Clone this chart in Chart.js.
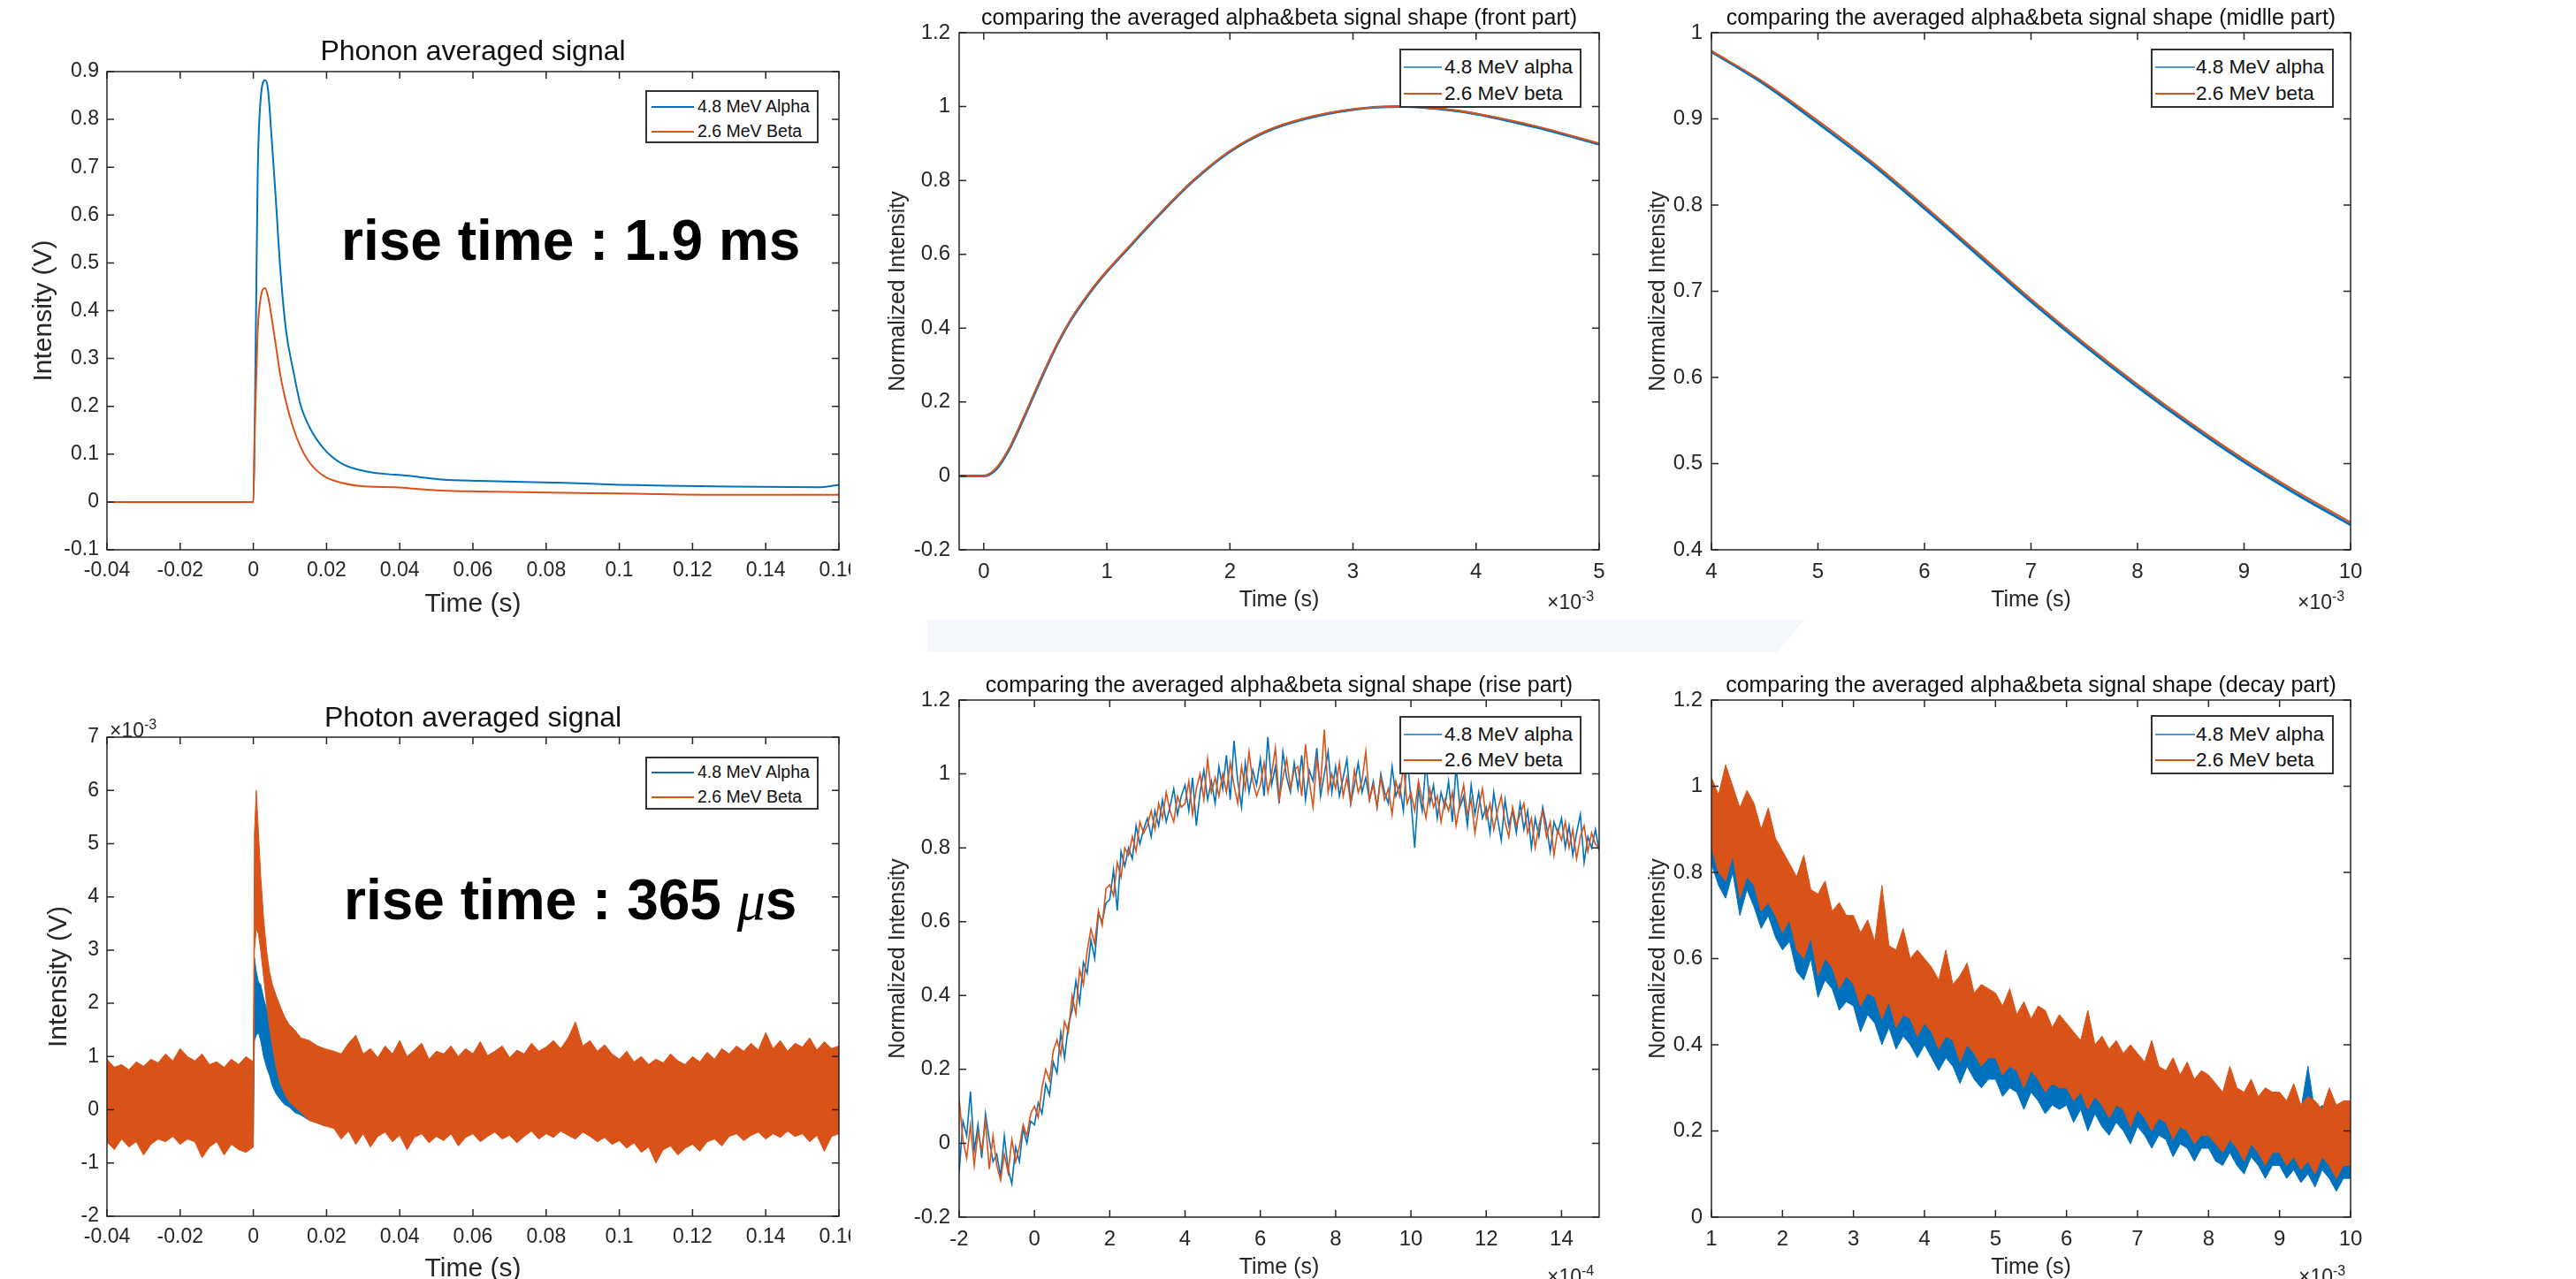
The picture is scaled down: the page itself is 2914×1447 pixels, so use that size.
<!DOCTYPE html>
<html>
<head>
<meta charset="utf-8">
<script src="https://cdn.jsdelivr.net/npm/chart.js@4.4.1/dist/chart.umd.min.js"></script>
<style>
  html, body { margin: 0; padding: 0; background: #fff; }
  body { position: relative; width: 2914px; height: 1447px; overflow: hidden; font-family: "Liberation Sans", Arial, Helvetica, sans-serif; color: #262626; }
  .panel { position: absolute; overflow: hidden; }
  .panel canvas { position: absolute; left: 0; top: 0; }
  .legend { position: absolute; background: #fff; border: 2px solid #333; box-sizing: border-box; }
  .legend .swatch { position: absolute; height: 0; border-top: 2px solid; }
  .legend .ltext { position: absolute; white-space: nowrap; color: #111; }
  .note { position: absolute; font-weight: bold; font-size: 64px; line-height: 64px; color: #000; white-space: nowrap; }
  .note .mu { font-family: "Liberation Serif", "DejaVu Serif", serif; font-style: italic; font-weight: normal; }
  .exp { position: absolute; font-size: 23px; line-height: 23px; color: #262626; white-space: nowrap; }
  .exp sup { font-size: 16px; }
  .band { position: absolute; left: 1049px; top: 701px; width: 993px; height: 37px; background: #f4f8fd; clip-path: polygon(0 0, 100% 0, 961px 100%, 0 100%); }
</style>
</head>
<body>
<div class="band"></div>
<script>
Chart.defaults.font.family = '"Liberation Sans", Arial, Helvetica, sans-serif';
Chart.defaults.color = '#262626';

const BLUE = '#0072BD';
const ORANGE = '#D95319';
const AXIS = '#262626';

// ---------- Phonon averaged signal (time in s, intensity in V)
const phononTime = [-0.04, -0.02, -0.0005, 0, 0.0004, 0.0008, 0.0012, 0.002, 0.0032, 0.004, 0.0049, 0.0061, 0.0073, 0.0089, 0.0109, 0.0129, 0.0153, 0.0193, 0.0242, 0.0314, 0.0387, 0.0435, 0.0515, 0.0617, 0.085, 0.1, 0.107, 0.131, 0.155, 0.16];
const phononAlpha = [0, 0, 0, 0, 0.176, 0.44, 0.69, 0.843, 0.882, 0.863, 0.771, 0.638, 0.494, 0.36, 0.275, 0.203, 0.157, 0.111, 0.08, 0.063, 0.057, 0.054, 0.047, 0.044, 0.04, 0.036, 0.035, 0.032, 0.031, 0.036];
const phononBeta = [0, 0, 0, 0, 0.155, 0.26, 0.36, 0.427, 0.447, 0.43, 0.39, 0.33, 0.268, 0.21, 0.155, 0.115, 0.083, 0.054, 0.04, 0.032, 0.031, 0.028, 0.024, 0.022, 0.019, 0.018, 0.017, 0.015, 0.015, 0.015];
const phononXTicks = [-0.04, -0.02, 0, 0.02, 0.04, 0.06, 0.08, 0.1, 0.12, 0.14, 0.16];
const phononXLabels = ['-0.04', '-0.02', '0', '0.02', '0.04', '0.06', '0.08', '0.1', '0.12', '0.14', '0.16'];
const phononYTicks = [-0.1, 0, 0.1, 0.2, 0.3, 0.4, 0.5, 0.6, 0.7, 0.8, 0.9];
const phononYLabels = ['-0.1', '0', '0.1', '0.2', '0.3', '0.4', '0.5', '0.6', '0.7', '0.8', '0.9'];

// ---------- Photon averaged signal (time in s, intensity in 1e-3 V), noisy trace read as upper/lower envelope
const photonTime = [
  -0.04, -0.038, -0.036, -0.034, -0.032, -0.03, -0.028, -0.026, -0.024, -0.022, -0.02, -0.018, -0.016, -0.014, -0.012, -0.01, -0.008, -0.006, -0.004, -0.002, 0,
  0.0003, 0.0008, 0.0014, 0.002, 0.0028, 0.0036, 0.0044, 0.0052, 0.0062, 0.0073, 0.0085, 0.0098, 0.0113, 0.013, 0.0153, 0.0175, 0.0194,
  0.022, 0.024, 0.026, 0.028, 0.03, 0.032, 0.034, 0.036, 0.038, 0.04, 0.042, 0.044, 0.046, 0.048, 0.05, 0.052, 0.054, 0.056, 0.058, 0.06,
  0.062, 0.064, 0.066, 0.068, 0.07, 0.072, 0.074, 0.076, 0.078, 0.08, 0.082, 0.084, 0.086, 0.088, 0.09, 0.092, 0.094, 0.096, 0.098, 0.1,
  0.102, 0.104, 0.106, 0.108, 0.11, 0.112, 0.114, 0.116, 0.118, 0.12, 0.122, 0.124, 0.126, 0.128, 0.13, 0.132, 0.134, 0.136, 0.138, 0.14,
  0.142, 0.144, 0.146, 0.148, 0.15, 0.152, 0.154, 0.156, 0.158, 0.16
];
const photonBetaHi = [
  0.95, 0.8, 0.85, 0.75, 0.9, 0.82, 0.95, 0.88, 1.05, 0.92, 1.15, 1.0, 0.92, 1.05, 0.85, 0.9, 0.8, 0.95, 0.85, 1.0, 0.9,
  5.2, 6.0, 5.2, 4.4, 3.6, 3.0, 2.6, 2.35, 2.15, 1.95, 1.75, 1.6, 1.5, 1.35, 1.3, 1.2, 1.15,
  1.1, 1.05, 1.25, 1.4, 1.05, 1.15, 0.98, 1.2, 1.05, 1.3, 1.0, 1.12, 1.25, 0.95, 1.1, 1.05, 1.2, 1.0, 1.15, 1.05,
  1.28, 1.02, 1.1, 1.2, 0.98, 1.12, 1.05, 1.25, 1.1, 1.18, 1.3, 1.15, 1.35, 1.65, 1.2, 1.3, 1.1, 1.22, 1.05, 0.95,
  1.1, 0.9, 1.0, 0.85, 0.95, 0.88, 1.05, 0.92, 0.85, 1.0, 0.9, 1.08, 0.95, 1.15, 1.05, 1.2, 1.1, 1.25, 1.12, 1.45,
  1.15, 1.3, 1.1, 1.25, 1.18, 1.35, 1.12, 1.28, 1.15, 1.2
];
const photonBetaLo = [
  -0.6, -0.75, -0.55, -0.7, -0.6, -0.85, -0.65, -0.55, -0.6, -0.5, -0.65, -0.55, -0.6, -0.9, -0.7, -0.6, -0.85, -0.65, -0.75, -0.8, -0.7,
  3.0, 3.4, 3.3, 3.0, 2.5, 2.0, 1.55, 1.2, 0.8, 0.5, 0.3, 0.15, 0.05, -0.05, -0.2, -0.25, -0.3,
  -0.35, -0.55, -0.4, -0.65, -0.45, -0.7, -0.5, -0.42, -0.6, -0.48, -0.75, -0.52, -0.45, -0.62, -0.5, -0.58, -0.45, -0.68, -0.52, -0.45,
  -0.6, -0.5, -0.42, -0.55, -0.48, -0.62, -0.5, -0.4, -0.55, -0.45, -0.52, -0.4, -0.48, -0.55, -0.42, -0.5, -0.6, -0.52, -0.65, -0.58,
  -0.72, -0.62, -0.8, -0.7, -1.0, -0.75, -0.68, -0.85, -0.72, -0.65, -0.78, -0.6, -0.55, -0.68, -0.5, -0.45, -0.58, -0.48, -0.42, -0.55,
  -0.45, -0.52, -0.4, -0.5, -0.45, -0.6, -0.48, -0.78, -0.5, -0.45
];
const photonAlphaHi = [
  0.62, 0.55, 0.6, 0.5, 0.65, 0.58, 0.6, 0.55, 0.7, 0.6, 0.75, 0.65, 0.6, 0.7, 0.55, 0.62, 0.55, 0.65, 0.6, 0.7, 0.6,
  2.85, 2.6, 2.4, 2.35, 2.1, 1.9, 1.65, 1.45, 1.25, 1.0, 0.8, 0.62, 0.5, 0.45, 0.5, 0.55, 0.6,
  0.7, 0.65, 0.75, 0.7, 0.68, 0.72, 0.65, 0.7, 0.75, 0.68, 0.7, 0.65, 0.72, 0.7, 0.66, 0.74, 0.7, 0.68, 0.72, 0.7,
  0.74, 0.68, 0.7, 0.72, 0.66, 0.7, 0.74, 0.7, 0.68, 0.72, 0.7, 0.75, 0.7, 0.72, 0.68, 0.74, 0.7, 0.72, 0.68, 0.66,
  0.7, 0.65, 0.68, 0.62, 0.66, 0.64, 0.7, 0.66, 0.62, 0.68, 0.64, 0.7, 0.66, 0.72, 0.7, 0.74, 0.7, 0.72, 0.7, 0.75,
  0.72, 0.74, 0.7, 0.72, 0.7, 0.74, 0.7, 0.72, 0.7, 0.72
];
const photonAlphaLo = [
  -0.45, -0.5, -0.4, -0.5, -0.45, -0.55, -0.45, -0.4, -0.45, -0.38, -0.5, -0.42, -0.45, -0.55, -0.5, -0.45, -0.55, -0.48, -0.5, -0.55, -0.5,
  1.3, 1.4, 1.45, 1.3, 1.0, 0.8, 0.65, 0.45, 0.3, 0.2, 0.1, 0.05, -0.05, -0.1, -0.2, -0.25, -0.3,
  -0.3, -0.35, -0.32, -0.38, -0.34, -0.36, -0.3, -0.35, -0.38, -0.33, -0.36, -0.34, -0.32, -0.38, -0.35, -0.36, -0.32, -0.38, -0.34, -0.32,
  -0.36, -0.34, -0.3, -0.36, -0.34, -0.38, -0.35, -0.32, -0.36, -0.34, -0.36, -0.3, -0.34, -0.36, -0.32, -0.35, -0.38, -0.36, -0.4, -0.38,
  -0.42, -0.4, -0.45, -0.42, -0.5, -0.45, -0.42, -0.48, -0.44, -0.42, -0.46, -0.4, -0.38, -0.42, -0.35, -0.32, -0.38, -0.34, -0.3, -0.36,
  -0.32, -0.35, -0.3, -0.34, -0.32, -0.38, -0.34, -0.4, -0.35, -0.32
];
const photonYTicks = [-2, -1, 0, 1, 2, 3, 4, 5, 6, 7];
const photonYLabels = ['-2', '-1', '0', '1', '2', '3', '4', '5', '6', '7'];

// ---------- Front part (time in 1e-3 s, normalized)
const frontTime = [-0.2, -0.1, 0, 0.1, 0.2, 0.3, 0.4, 0.5, 0.6, 0.7, 0.8, 0.9, 1.0, 1.15, 1.4, 1.7, 2.0, 2.3, 2.6, 3.0, 3.4, 3.8, 4.0, 4.5, 5.0];
const frontAlpha = [0, 0, 0, 0.018, 0.068, 0.138, 0.213, 0.288, 0.358, 0.418, 0.468, 0.513, 0.553, 0.608, 0.698, 0.798, 0.878, 0.933, 0.966, 0.992, 1.0, 0.99, 0.98, 0.943, 0.898];
const frontBeta = [0, 0, 0, 0.021, 0.071, 0.141, 0.216, 0.291, 0.36, 0.42, 0.47, 0.515, 0.555, 0.61, 0.7, 0.8, 0.88, 0.935, 0.968, 0.993, 1.0, 0.991, 0.981, 0.946, 0.9];
const frontXTicks = [0, 1, 2, 3, 4, 5];
const frontXLabels = ['0', '1', '2', '3', '4', '5'];
const normYTicks = [-0.2, 0, 0.2, 0.4, 0.6, 0.8, 1, 1.2];
const normYLabels = ['-0.2', '0', '0.2', '0.4', '0.6', '0.8', '1', '1.2'];

// ---------- Middle part (time in 1e-3 s)
const midTime = [4, 4.5, 5, 5.5, 6, 6.5, 7, 7.5, 8, 8.5, 9, 9.5, 10];
const midAlpha = [0.978, 0.94, 0.895, 0.848, 0.796, 0.742, 0.688, 0.637, 0.589, 0.544, 0.502, 0.464, 0.429];
const midBeta = [0.979, 0.942, 0.898, 0.851, 0.799, 0.745, 0.691, 0.64, 0.592, 0.547, 0.505, 0.467, 0.432];
const midXTicks = [4, 5, 6, 7, 8, 9, 10];
const midXLabels = ['4', '5', '6', '7', '8', '9', '10'];
const midYTicks = [0.4, 0.5, 0.6, 0.7, 0.8, 0.9, 1];
const midYLabels = ['0.4', '0.5', '0.6', '0.7', '0.8', '0.9', '1'];

// ---------- Rise part (time in 1e-4 s, sampled every 0.1 from -2 to 15)
const riseAlpha = [
  -0.08, 0.06, 0.02, 0.14, -0.02, 0.05, -0.04, 0.08, 0.01, -0.05,
  -0.03, -0.09, 0.02, -0.07, -0.11, -0.01, -0.05, 0.04, 0.0, 0.06,
  0.05, 0.11, 0.08, 0.16, 0.13, 0.22, 0.19, 0.3, 0.23, 0.32,
  0.36, 0.44, 0.38, 0.49, 0.46, 0.55, 0.5, 0.62, 0.6, 0.65,
  0.66, 0.74, 0.63, 0.79, 0.75, 0.8, 0.77, 0.86, 0.81, 0.85,
  0.88, 0.83, 0.9, 0.86, 0.93, 0.87, 0.91, 0.96, 0.89, 0.94,
  0.97, 0.9, 0.99, 0.86, 0.95, 1.01, 0.93, 0.98, 0.92, 1.02,
  0.96, 1.05, 0.93, 1.09, 0.98, 0.91, 1.03, 0.95, 1.01, 0.97,
  1.04, 0.94, 1.1, 0.97, 1.02, 0.92, 1.06, 0.99, 0.95, 1.03,
  0.96, 1.05, 0.93, 1.01, 0.98, 1.07, 0.94, 1.0, 1.06, 0.95,
  1.02, 0.94, 0.99, 1.04, 0.92, 0.97, 1.03, 0.95, 0.99, 0.93,
  0.98, 0.91, 1.0, 0.95, 0.92, 1.02, 0.94, 0.97, 0.9, 1.05,
  0.93, 0.8, 0.96, 0.9, 1.03, 0.92, 0.97, 0.88, 0.95, 0.91,
  0.98, 0.87, 1.02, 0.91, 0.94, 0.86, 0.97, 0.89, 0.95, 0.88,
  0.91, 0.84, 0.95, 0.88, 0.82, 0.93, 0.86, 0.9, 0.84, 0.92,
  0.85, 0.9, 0.8, 0.88, 0.83, 0.91, 0.86, 0.79, 0.87, 0.84,
  0.88, 0.8, 0.86, 0.78, 0.84, 0.89, 0.76, 0.83, 0.8, 0.85,
  0.79
];
const riseBeta = [
  0.12, 0.01, -0.04, 0.05, -0.06, 0.03, -0.02, 0.06, -0.07, 0.02,
  -0.06, -0.1, -0.03, -0.08, 0.01, -0.05, -0.01, 0.05, 0.02, 0.08,
  0.1, 0.07, 0.15, 0.2, 0.17, 0.25, 0.28, 0.24, 0.33, 0.3,
  0.4, 0.35, 0.47, 0.43, 0.52, 0.58, 0.54, 0.63, 0.59, 0.69,
  0.7, 0.67, 0.76, 0.72, 0.8, 0.78, 0.83, 0.79, 0.87, 0.84,
  0.86, 0.9, 0.85, 0.92, 0.88, 0.95, 0.9, 0.87, 0.94, 0.91,
  0.92, 0.98, 0.89, 0.96, 1.0, 0.93, 1.04, 0.95, 0.99, 0.94,
  1.0, 0.95, 1.03, 0.97, 0.92, 1.02, 0.96, 1.06, 0.98, 0.94,
  0.97, 1.03, 0.95, 1.0, 1.07, 0.93, 0.99, 1.04, 0.96, 1.01,
  1.02, 0.94, 1.08, 0.98, 0.91, 1.04, 0.97, 1.12, 0.95, 1.0,
  0.96, 1.03, 0.94, 0.99, 0.92, 1.01, 0.95, 0.98, 1.06, 0.93,
  0.97, 0.91, 0.99, 0.93, 0.96, 0.89, 0.98, 0.94, 1.02, 0.92,
  0.95, 0.9, 0.98, 0.93, 0.88, 0.96, 0.91, 0.94, 0.87, 0.93,
  0.9, 0.95, 0.86, 0.92, 0.97, 0.89, 0.93, 0.84, 0.91, 0.96,
  0.88, 0.92, 0.85, 0.9, 0.94, 0.87, 0.83, 0.91, 0.86, 0.89,
  0.92, 0.84, 0.88, 0.8, 0.86, 0.9, 0.83, 0.87, 0.78, 0.85,
  0.82, 0.87, 0.8, 0.85, 0.77, 0.83, 0.86, 0.79, 0.84, 0.81,
  0.8
];
const riseXTicks = [-2, 0, 2, 4, 6, 8, 10, 12, 14];
const riseXLabels = ['-2', '0', '2', '4', '6', '8', '10', '12', '14'];

// ---------- Decay part (time in 1e-3 s, sampled every 0.1 from 1 to 10), envelopes of the noisy traces
const decayBetaHi = [
  1.02, 0.98, 1.05, 1.0, 0.95, 0.99, 0.96, 0.9, 0.95, 0.88,
  0.85, 0.82, 0.79, 0.84, 0.76, 0.75, 0.78, 0.71, 0.73, 0.7,
  0.7, 0.66, 0.69, 0.64, 0.77, 0.63, 0.62, 0.67, 0.6, 0.62,
  0.6, 0.58, 0.55, 0.62, 0.54, 0.56, 0.59, 0.52, 0.54, 0.53,
  0.52, 0.49, 0.53, 0.47, 0.5, 0.46, 0.49, 0.48, 0.44, 0.47,
  0.45, 0.43, 0.41, 0.48, 0.4, 0.42, 0.39, 0.41, 0.38, 0.4,
  0.38, 0.36, 0.41, 0.35, 0.34, 0.37, 0.33, 0.36, 0.32, 0.34,
  0.33, 0.31, 0.29, 0.35, 0.3, 0.29, 0.32, 0.28, 0.3, 0.29,
  0.29, 0.27, 0.31, 0.26, 0.28, 0.27, 0.25, 0.3, 0.26, 0.27,
  0.27
];
const decayBetaLo = [
  0.86, 0.8, 0.78, 0.84, 0.74, 0.79, 0.77, 0.71, 0.73, 0.7,
  0.66, 0.69, 0.62, 0.6, 0.65, 0.56, 0.6, 0.58, 0.53, 0.56,
  0.54, 0.49, 0.52, 0.51, 0.46, 0.5, 0.44, 0.47, 0.46, 0.42,
  0.45, 0.43, 0.39, 0.42, 0.41, 0.36, 0.4, 0.38, 0.35, 0.37,
  0.37, 0.33, 0.35, 0.34, 0.3, 0.34, 0.32, 0.29, 0.31, 0.3,
  0.3, 0.27, 0.29, 0.25, 0.28, 0.26, 0.23, 0.26, 0.25, 0.21,
  0.25, 0.23, 0.2, 0.23, 0.22, 0.18, 0.21, 0.2, 0.17, 0.19,
  0.19, 0.17, 0.15, 0.18, 0.16, 0.13, 0.17, 0.15, 0.12, 0.15,
  0.15, 0.12, 0.14, 0.11, 0.13, 0.1, 0.14, 0.12, 0.09, 0.12,
  0.12
];
const decayAlphaHi = [
  1.0, 0.98, 0.96, 0.95, 0.92, 0.91, 0.88, 0.86, 0.84, 0.82,
  0.8, 0.77, 0.76, 0.73, 0.72, 0.7, 0.68, 0.67, 0.65, 0.64,
  0.63, 0.62, 0.6, 0.59, 0.58, 0.57, 0.56, 0.55, 0.54, 0.53,
  0.52, 0.51, 0.5, 0.49, 0.48, 0.47, 0.47, 0.46, 0.45, 0.44,
  0.44, 0.43, 0.42, 0.41, 0.41, 0.4, 0.39, 0.39, 0.38, 0.37,
  0.37, 0.36, 0.35, 0.35, 0.34, 0.34, 0.33, 0.32, 0.32, 0.31,
  0.31, 0.3, 0.3, 0.29, 0.29, 0.28, 0.28, 0.27, 0.27, 0.26,
  0.27, 0.26, 0.28, 0.25, 0.27, 0.25, 0.26, 0.24, 0.28, 0.25,
  0.26, 0.24, 0.27, 0.25, 0.35, 0.24, 0.26, 0.23, 0.25, 0.24,
  0.24
];
const decayAlphaLo = [
  0.82, 0.77, 0.74, 0.8, 0.7, 0.76, 0.72, 0.67, 0.7, 0.65,
  0.62, 0.64, 0.57, 0.55, 0.6, 0.51, 0.55, 0.53, 0.48, 0.5,
  0.49, 0.43, 0.47, 0.45, 0.4, 0.44, 0.39, 0.42, 0.4, 0.37,
  0.4, 0.37, 0.34, 0.37, 0.35, 0.31, 0.35, 0.32, 0.3, 0.32,
  0.32, 0.28, 0.3, 0.29, 0.25, 0.29, 0.27, 0.24, 0.26, 0.25,
  0.26, 0.22, 0.25, 0.2, 0.24, 0.21, 0.19, 0.22, 0.2, 0.17,
  0.21, 0.19, 0.16, 0.19, 0.18, 0.14, 0.17, 0.16, 0.13, 0.16,
  0.16, 0.13, 0.12, 0.15, 0.12, 0.1, 0.14, 0.12, 0.09, 0.12,
  0.12, 0.09, 0.11, 0.08, 0.1, 0.07, 0.11, 0.09, 0.06, 0.09,
  0.09
];
const decayXTicks = [1, 2, 3, 4, 5, 6, 7, 8, 9, 10];
const decayXLabels = ['1', '2', '3', '4', '5', '6', '7', '8', '9', '10'];
const decayYTicks = [0, 0.2, 0.4, 0.6, 0.8, 1, 1.2];
const decayYLabels = ['0', '0.2', '0.4', '0.6', '0.8', '1', '1.2'];

// regular sampling grids of the recorded traces
const sampleGrid = (start, step, n) => Array.from({ length: n }, (_, i) => +(start + i * step).toFixed(4));
const riseTime = sampleGrid(-2, 0.1, riseAlpha.length);
const decayTime = sampleGrid(1, 0.1, decayBetaHi.length);

const pts = (xs, ys) => xs.map((x, i) => ({ x, y: ys[i] }));

// MATLAB-like box with inward ticks on all four sides
const matlabBox = {
    id: 'matlabBox',
    afterDatasetsDraw(chart) {
        const { ctx, chartArea: a, scales: { x, y } } = chart;
        const tl = 8;
        ctx.save();
        ctx.strokeStyle = AXIS;
        ctx.lineWidth = 1.5;
        ctx.beginPath();
        x.ticks.forEach(t => {
            const px = x.getPixelForValue(t.value);
            ctx.moveTo(px, a.bottom); ctx.lineTo(px, a.bottom - tl);
            ctx.moveTo(px, a.top); ctx.lineTo(px, a.top + tl);
        });
        y.ticks.forEach(t => {
            const py = y.getPixelForValue(t.value);
            ctx.moveTo(a.left, py); ctx.lineTo(a.left + tl, py);
            ctx.moveTo(a.right, py); ctx.lineTo(a.right - tl, py);
        });
        ctx.stroke();
        ctx.strokeRect(a.left, a.top, a.right - a.left, a.bottom - a.top);
        ctx.restore();
    },
};

const line = (xs, ys, color, order, opts = {}) => ({
    data: pts(xs, ys),
    borderColor: color,
    borderWidth: 2,
    pointRadius: 0,
    fill: false,
    order,
    ...opts,
});

const band = (xs, lo, hi, color, order) => [
    { data: pts(xs, lo), borderColor: color, backgroundColor: color, borderWidth: 1, pointRadius: 0, fill: false, order },
    { data: pts(xs, hi), borderColor: color, backgroundColor: color, borderWidth: 1, pointRadius: 0, fill: '-1', order },
];

function makePanel(p) {
    const c = p.canvas, a = p.plot;
    const cw = c.r - c.l, ch = c.b - c.t;
    const wrap = document.createElement('div');
    wrap.className = 'panel';
    Object.assign(wrap.style, {
        left: c.l + 'px', top: c.t + 'px',
        width: ((p.clipR || c.r) - c.l) + 'px', height: ch + 'px',
    });
    const cv = document.createElement('canvas');
    cv.width = cw; cv.height = ch;
    cv.style.width = cw + 'px'; cv.style.height = ch + 'px';
    wrap.appendChild(cv);
    document.body.appendChild(wrap);

    const padT = a.t - c.t, padB = c.b - a.b, padL = a.l - c.l, padR = c.r - a.r;
    const tTop = p.title.y - c.t - p.title.size / 2;

    new Chart(cv, {
        type: 'line',
        data: { datasets: p.datasets },
        options: {
            responsive: false,
            animation: false,
            devicePixelRatio: 1,
            events: [],
            layout: { padding: { left: 0, top: 0, right: padR, bottom: 0 } },
            plugins: {
                legend: { display: false },
                tooltip: { enabled: false },
                title: {
                    display: true,
                    fullSize: false,
                    text: p.title.text,
                    color: '#111',
                    font: { size: p.title.size, lineHeight: 1, weight: 'normal' },
                    padding: { top: tTop, bottom: padT - p.title.size - tTop },
                },
            },
            scales: {
                x: {
                    type: 'linear',
                    position: 'bottom',
                    min: p.x.min,
                    max: p.x.max,
                    afterBuildTicks: s => { s.ticks = p.x.ticks.map(v => ({ value: v })); },
                    afterFit: s => { s.height = padB; s.paddingLeft = 0; s.paddingRight = 0; },
                    grid: { display: false, drawTicks: false },
                    border: { display: false },
                    ticks: {
                        autoSkip: false, maxRotation: 0, minRotation: 0,
                        padding: p.x.pad, color: AXIS,
                        font: { size: p.tickSize },
                        callback: (v, i) => p.x.labels[i],
                    },
                    title: {
                        display: true, text: 'Time (s)', color: AXIS,
                        font: { size: p.x.titleSize, lineHeight: 1 },
                        padding: { top: 0, bottom: c.b - p.x.titleY - p.x.titleSize / 2 },
                    },
                },
                y: {
                    type: 'linear',
                    min: p.y.min,
                    max: p.y.max,
                    afterBuildTicks: s => { s.ticks = p.y.ticks.map(v => ({ value: v })); },
                    afterFit: s => { s.width = padL; s.paddingTop = 0; s.paddingBottom = 0; },
                    grid: { display: false, drawTicks: false },
                    border: { display: false },
                    ticks: {
                        autoSkip: false, padding: p.y.pad, color: AXIS,
                        font: { size: p.tickSize },
                        callback: (v, i) => p.y.labels[i],
                    },
                    title: {
                        display: true, text: p.y.title, color: AXIS,
                        font: { size: p.y.titleSize, lineHeight: 1 },
                        padding: { top: p.y.titleX - c.l - p.y.titleSize / 2, bottom: 0 },
                    },
                },
            },
        },
        plugins: [matlabBox],
    });
}

function makeLegend(g, names) {
    const box = document.createElement('div');
    box.className = 'legend';
    Object.assign(box.style, { left: g.l + 'px', top: g.t + 'px', width: g.w + 'px', height: g.h + 'px' });
    names.forEach((n, i) => {
        const sw = document.createElement('div');
        sw.className = 'swatch';
        Object.assign(sw.style, {
            left: (g.sx0 - g.l - 2) + 'px', width: (g.sx1 - g.sx0) + 'px',
            top: (g.rows[i] - g.t - 3) + 'px', borderTopColor: n.color,
        });
        const tx = document.createElement('div');
        tx.className = 'ltext';
        tx.textContent = n.text;
        Object.assign(tx.style, {
            left: (g.tx - g.l - 2) + 'px', top: (g.rows[i] - g.t - 2 - 0.49 * g.size) + 'px',
            fontSize: g.size + 'px', lineHeight: g.size + 'px',
        });
        box.appendChild(sw);
        box.appendChild(tx);
    });
    document.body.appendChild(box);
}

function addHtml(cls, left, top, html) {
    const d = document.createElement('div');
    d.className = cls;
    d.style.left = left + 'px';
    d.style.top = top + 'px';
    d.innerHTML = html;
    document.body.appendChild(d);
}

// ---- Panel 1: Phonon
makePanel({
    canvas: { l: 0, t: 0, r: 1000, b: 700 }, clipR: 962,
    plot: { l: 121, t: 81, r: 949, b: 622 },
    title: { text: 'Phonon averaged signal', size: 32, y: 59 },
    tickSize: 23,
    x: { min: -0.04, max: 0.16, ticks: phononXTicks, labels: phononXLabels, pad: 10, titleSize: 30, titleY: 684 },
    y: { min: -0.1, max: 0.9, ticks: phononYTicks, labels: phononYLabels, pad: 9, title: 'Intensity (V)', titleSize: 30, titleX: 50 },
    datasets: [
        line(phononTime, phononBeta, ORANGE, 1, { cubicInterpolationMode: 'monotone' }),
        line(phononTime, phononAlpha, BLUE, 2, { cubicInterpolationMode: 'monotone' }),
    ],
});

// ---- Panel 4: Photon
makePanel({
    canvas: { l: 0, t: 760, r: 1000, b: 1470 }, clipR: 962,
    plot: { l: 121, t: 834, r: 949, b: 1376 },
    title: { text: 'Photon averaged signal', size: 32, y: 813 },
    tickSize: 23,
    x: { min: -0.04, max: 0.16, ticks: phononXTicks, labels: phononXLabels, pad: 10, titleSize: 30, titleY: 1436 },
    y: { min: -2, max: 7, ticks: photonYTicks, labels: photonYLabels, pad: 9, title: 'Intensity (V)', titleSize: 30, titleX: 67 },
    datasets: [
        ...band(photonTime, photonBetaLo, photonBetaHi, ORANGE, 1),
        ...band(photonTime, photonAlphaLo, photonAlphaHi, BLUE, 2),
    ],
});

// ---- Panel 2: front part
makePanel({
    canvas: { l: 990, t: 0, r: 1850, b: 700 },
    plot: { l: 1085, t: 37, r: 1809, b: 622 },
    title: { text: 'comparing the averaged alpha&beta signal shape (front part)', size: 25, y: 21 },
    tickSize: 24,
    x: { min: -0.2, max: 5, ticks: frontXTicks, labels: frontXLabels, pad: 11, titleSize: 25, titleY: 679 },
    y: { min: -0.2, max: 1.2, ticks: normYTicks, labels: normYLabels, pad: 10, title: 'Normalized Intensity', titleSize: 25, titleX: 1016 },
    datasets: [
        line(frontTime, frontBeta, ORANGE, 1, { cubicInterpolationMode: 'monotone' }),
        line(frontTime, frontAlpha, BLUE, 2, { cubicInterpolationMode: 'monotone', borderWidth: 3 }),
    ],
});

// ---- Panel 3: middle part
makePanel({
    canvas: { l: 1850, t: 0, r: 2720, b: 700 },
    plot: { l: 1936, t: 37, r: 2659, b: 622 },
    title: { text: 'comparing the averaged alpha&beta signal shape (midlle part)', size: 25, y: 21 },
    tickSize: 24,
    x: { min: 4, max: 10, ticks: midXTicks, labels: midXLabels, pad: 11, titleSize: 25, titleY: 679 },
    y: { min: 0.4, max: 1, ticks: midYTicks, labels: midYLabels, pad: 10, title: 'Normalized Intensity', titleSize: 25, titleX: 1876 },
    datasets: [
        line(midTime, midBeta, ORANGE, 1, { cubicInterpolationMode: 'monotone' }),
        line(midTime, midAlpha, BLUE, 2, { cubicInterpolationMode: 'monotone', borderWidth: 3 }),
    ],
});

// ---- Panel 5: rise part
makePanel({
    canvas: { l: 990, t: 745, r: 1850, b: 1470 },
    plot: { l: 1085, t: 792, r: 1809, b: 1377 },
    title: { text: 'comparing the averaged alpha&beta signal shape (rise part)', size: 25, y: 776 },
    tickSize: 24,
    x: { min: -2, max: 15, ticks: riseXTicks, labels: riseXLabels, pad: 11, titleSize: 25, titleY: 1434 },
    y: { min: -0.2, max: 1.2, ticks: normYTicks, labels: normYLabels, pad: 10, title: 'Normalized Intensity', titleSize: 25, titleX: 1016 },
    datasets: [
        line(riseTime, riseBeta, ORANGE, 1, { borderWidth: 1.6 }),
        line(riseTime, riseAlpha, BLUE, 2, { borderWidth: 1.6 }),
    ],
});

// ---- Panel 6: decay part
makePanel({
    canvas: { l: 1850, t: 745, r: 2720, b: 1470 },
    plot: { l: 1936, t: 792, r: 2659, b: 1377 },
    title: { text: 'comparing the averaged alpha&beta signal shape (decay part)', size: 25, y: 776 },
    tickSize: 24,
    x: { min: 1, max: 10, ticks: decayXTicks, labels: decayXLabels, pad: 11, titleSize: 25, titleY: 1434 },
    y: { min: 0, max: 1.2, ticks: decayYTicks, labels: decayYLabels, pad: 10, title: 'Normalized Intensity', titleSize: 25, titleX: 1876 },
    datasets: [
        ...band(decayTime, decayBetaLo, decayBetaHi, ORANGE, 1),
        ...band(decayTime, decayAlphaLo, decayAlphaHi, BLUE, 2),
    ],
});

// ---- legends
const capNames = [{ text: '4.8 MeV Alpha', color: BLUE }, { text: '2.6 MeV Beta', color: ORANGE }];
const lowNames = [{ text: '4.8 MeV alpha', color: '#4a9ad6' }, { text: '2.6 MeV beta', color: ORANGE }];
makeLegend({ l: 730, t: 102, w: 196, h: 60, rows: [121, 149], sx0: 737, sx1: 785, tx: 789, size: 19.5 }, capNames);
makeLegend({ l: 730, t: 856, w: 196, h: 60, rows: [874, 902], sx0: 737, sx1: 785, tx: 789, size: 19.5 }, capNames);
makeLegend({ l: 1583, t: 55, w: 206, h: 67, rows: [76, 106], sx0: 1588, sx1: 1631, tx: 1634, size: 22.5 }, lowNames);
makeLegend({ l: 2433, t: 55, w: 207, h: 67, rows: [76, 106], sx0: 2438, sx1: 2483, tx: 2484, size: 22.5 }, lowNames);
makeLegend({ l: 1583, t: 810, w: 206, h: 66, rows: [831, 860], sx0: 1588, sx1: 1631, tx: 1634, size: 22.5 }, lowNames);
makeLegend({ l: 2433, t: 809, w: 207, h: 67, rows: [831, 860], sx0: 2438, sx1: 2483, tx: 2484, size: 22.5 }, lowNames);

// ---- exponent labels
addHtml('exp', 1750, 663, '&times;10<sup>-3</sup>');
addHtml('exp', 2599, 663, '&times;10<sup>-3</sup>');
addHtml('exp', 1750, 1426, '&times;10<sup>-4</sup>');
addHtml('exp', 2600, 1426, '&times;10<sup>-3</sup>');
addHtml('exp', 124, 808, '&times;10<sup>-3</sup>');

// ---- annotations
addHtml('note', 386, 240, 'rise time : 1.9 ms');
addHtml('note', 389, 986, 'rise time : 365 <span class="mu">μ</span>s');
</script>
</body>
</html>
